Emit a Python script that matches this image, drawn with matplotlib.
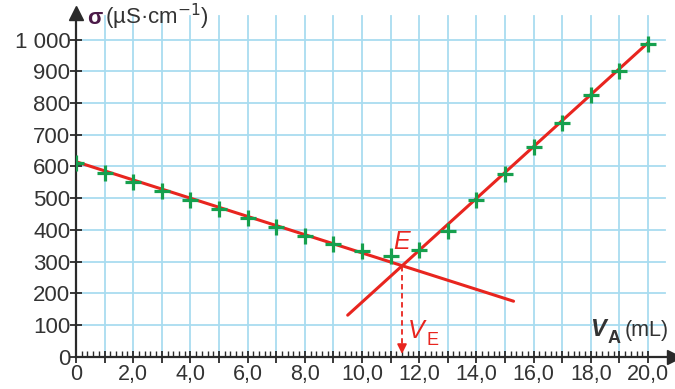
import matplotlib
matplotlib.use("Agg")
import matplotlib.pyplot as plt
import numpy as np

plt.rcParams['font.family'] = ['Liberation Sans', 'DejaVu Sans']

# Data
volume_mL = [0, 1, 2, 3, 4, 5, 6, 7, 8, 9, 10, 11, 12, 13, 14, 15, 16, 17, 18, 19, 20]
sigma = [610, 580, 552, 522, 494, 465, 437, 408, 380, 355, 332, 318, 338, 398, 495, 576, 662, 737, 826, 900, 985]

# fitted lines (endpoints)
line1_x = [0.0, 15.3]
line1_y = [615, 175]
line2_x = [9.5, 20.0]
line2_y = [131, 990]
VE = 11.4
sigma_E = 285

xtick_vals = list(range(0, 21))
xtick_labels = ['0' if v == 0 else (f'{v},0' if v % 2 == 0 else '') for v in xtick_vals]
ytick_vals = [0, 100, 200, 300, 400, 500, 600, 700, 800, 900, 1000]
ytick_labels = ['0', '100', '200', '300', '400', '500', '600', '700', '800', '900', '1 000']

RED = '#e8251f'
GREEN = '#16a04e'
GRID = '#a9dcf0'
AX = '#2a2a2a'
TXT = '#333333'

fig = plt.figure(figsize=(6.75, 3.89), dpi=100)
ax = fig.add_axes([76/675, (389-356.7)/389, 597.7/675, 344/389])
ax.set_xlim(0, 20.9)
ax.set_ylim(0, 1085)

# grid
for v in xtick_vals[1:]:
    ax.plot([v, v], [0, 1075], color=GRID, lw=1.3, zorder=1)
for v in ytick_vals[1:]:
    ax.plot([0, 20.6], [v, v], color=GRID, lw=1.3, zorder=1)

for s in ['top', 'right']:
    ax.spines[s].set_visible(False)
for s in ['left', 'bottom']:
    ax.spines[s].set_color(AX)
    ax.spines[s].set_linewidth(1.6)
    ax.spines[s].set_zorder(3)

ax.set_xticks(xtick_vals)
ax.set_xticklabels(xtick_labels)
ax.set_xticks(np.arange(0, 20.01, 0.2), minor=True)
ax.set_yticks(ytick_vals)
ax.set_yticklabels(ytick_labels)
ax.tick_params(axis='x', which='major', direction='inout', length=8, width=1.3, color=AX,
               labelsize=15.5, labelcolor=TXT, pad=1)
ax.tick_params(axis='x', which='minor', direction='in', length=4, width=1.0, color=AX)
ax.tick_params(axis='y', which='major', direction='inout', length=8, width=1.3, color=AX,
               labelsize=16, labelcolor=TXT, pad=0)

# arrows at axis ends
ax.plot([20.9], [0], marker='>', color=AX, markersize=10, clip_on=False, zorder=4)
ax.plot([0], [1085], marker='^', color=AX, markersize=10, clip_on=False, zorder=4)

# lines
ax.plot(line1_x, line1_y, color=RED, lw=2.2, zorder=4, solid_capstyle='round')
ax.plot(line2_x, line2_y, color=RED, lw=2.2, zorder=4, solid_capstyle='round')

# data points
ax.plot(volume_mL, sigma, linestyle='none', marker='+', markersize=12, mew=2.3, color=GREEN, zorder=5)

# dashed arrow to V_E
ax.plot([VE, VE], [sigma_E, 25], color=RED, lw=1.3, ls=(0, (3, 2)), zorder=4)
ax.annotate('', xy=(VE, 0), xytext=(VE, 40),
            arrowprops=dict(arrowstyle='-|>', color=RED, lw=1.3, mutation_scale=14), zorder=4)

ax.text(11.38, 362, 'E', color=RED, fontsize=18, style='italic', ha='center', va='center', zorder=6)
ax.text(11.62, 80, 'V', color=RED, fontsize=18, style='italic', ha='left', va='center', zorder=6)
ax.text(12.25, 50, 'E', color=RED, fontsize=13, ha='left', va='center', zorder=6)

# axis labels
ax.text(0.38, 1068, 'σ', color='#4b1a48', fontsize=16, fontweight='bold', ha='left', va='center')
ax.text(1.0, 1072, '(µS·cm$^{-1}$)', color=TXT, fontsize=16, ha='left', va='center')
ax.text(17.97, 87, 'V', color=TXT, fontsize=17, fontweight='bold', style='italic', ha='left', va='center')
ax.text(18.6, 57, 'A', color=TXT, fontsize=13, fontweight='bold', ha='left', va='center')
ax.text(19.2, 84, '(mL)', color=TXT, fontsize=15.5, ha='left', va='center')

fig.savefig('out.png', dpi=100)
